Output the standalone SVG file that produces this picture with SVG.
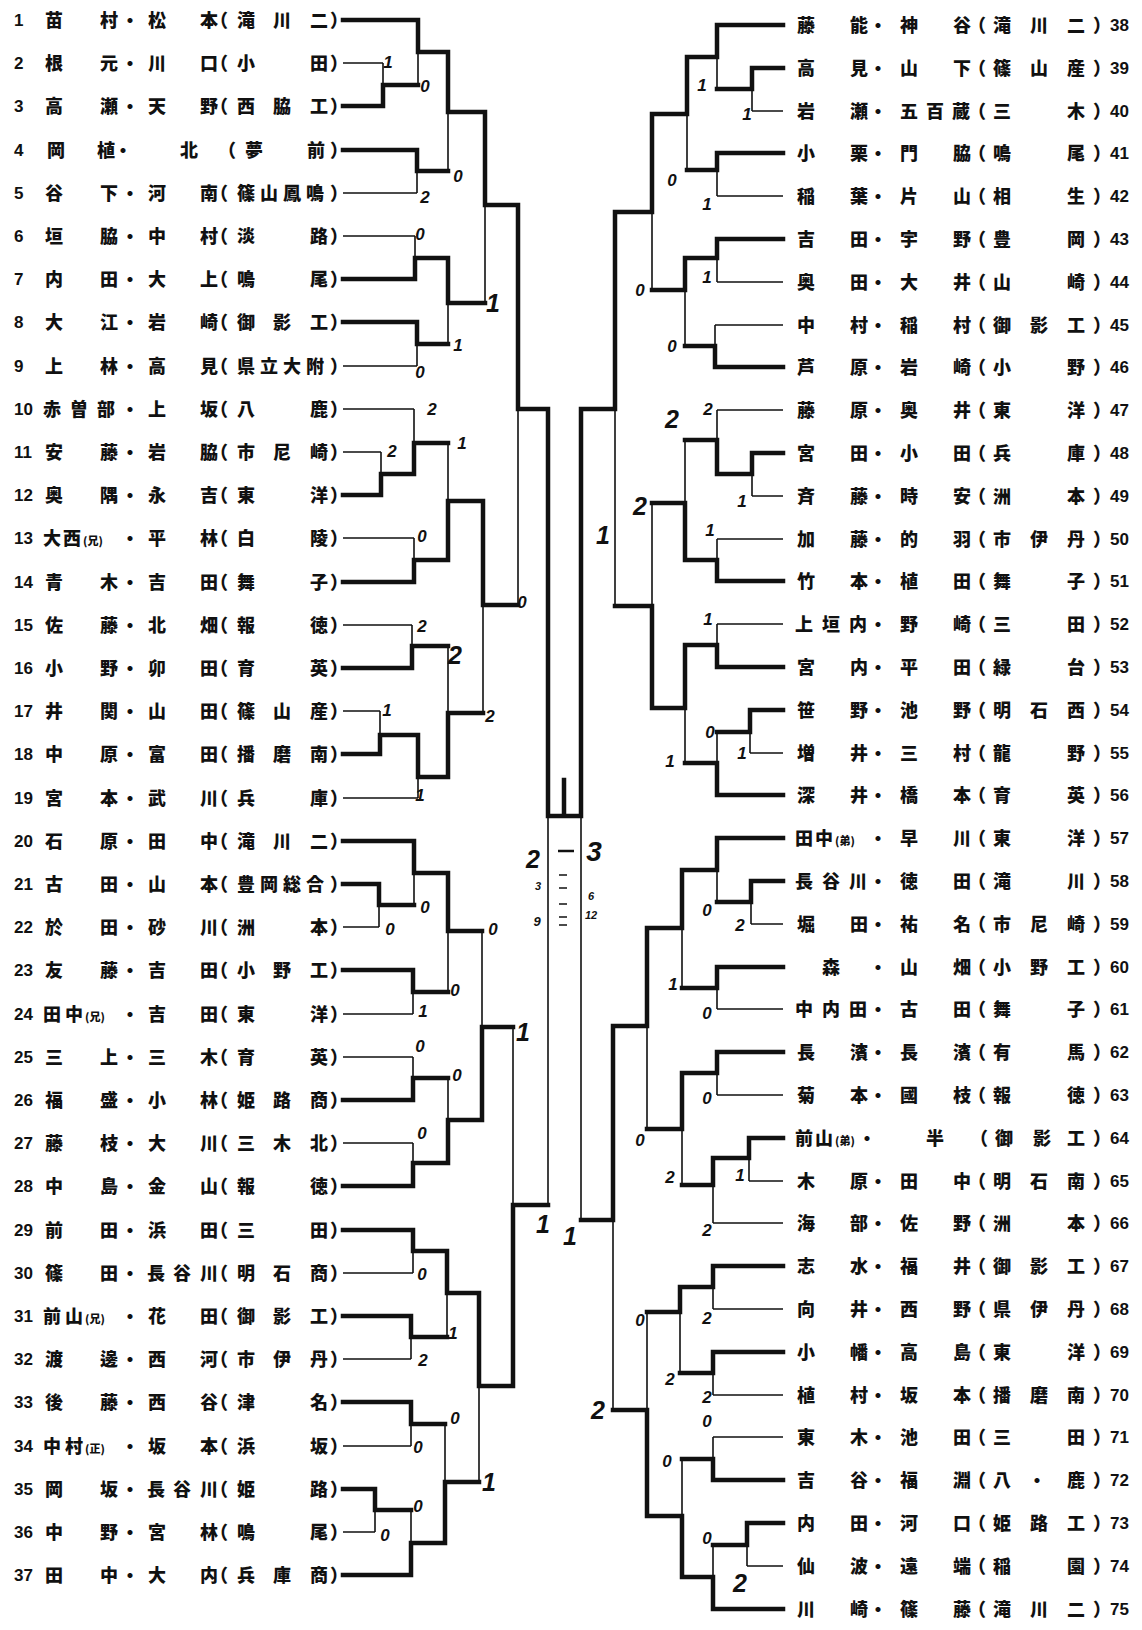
<svg xmlns="http://www.w3.org/2000/svg" width="1142" height="1630" viewBox="0 0 1142 1630">
<style>
.j{font-family:'Noto Sans CJK JP','Noto Sans CJK SC',sans-serif;font-size:18px;font-weight:900;fill:#111}
.s{font-size:11px}
.n{font-family:'Liberation Sans',Arial,sans-serif;font-size:17px;font-weight:700;fill:#111}
.h{font-family:'Liberation Sans',Arial,sans-serif;font-size:17px;font-weight:700;font-style:italic;fill:#111;text-anchor:middle}
.hb{font-size:25px}
.hs{font-size:11px}
.k{fill:none;stroke:#111;stroke-width:4.5;stroke-linecap:square}
.t{fill:none;stroke:#111;stroke-width:1.6}
</style>
<rect width="1142" height="1630" fill="#fff"/>
<g id="connectors">
<path class="t" d="M343 63H383M343 193H417M343 236H415M343 366H417M343 409H414M343 452H381M343 538H414M343 625H412M343 711H380M343 798H418M343 927H379M343 1014H413M343 1057H413M343 1143H413M343 1273H413M343 1359H411M343 1446H411M343 1532H375
M383 63V85M418 85V52M417 193V171M448 171V112M415 236V258M417 366V344M448 344V303M485 303V205M381 452V474M414 409V443M414 538V560M448 443V501M412 625V646M380 711V735M418 798V777M448 646V713M483 713V605M518 605V409
M379 927V905M414 905V873M413 1014V992M448 992V931M413 1057V1078M413 1143V1163M448 1078V1120M482 931V1027M413 1273V1251M411 1359V1337M447 1337V1293M411 1446V1424M375 1532V1510M411 1510V1543M445 1424V1482M479 1482V1386M513 1027V1205M548 1205V816
M752 111H783M717 196H783M717 282H783M715 325H783M717 410H783M752 496H783M717 539H783M717 624H783M750 753H783M751 924H783M717 1009H783M717 1095H783M749 1181H783M713 1223H783M713 1309H783M713 1395H783M713 1437H783M747 1566H783
M752 111V89M717 89V57M717 196V170M687 170V114M717 282V258M715 325V346M685 346V290M652 290V212M752 496V474M717 410V440M717 539V560M685 440V503M717 624V645M750 753V732M717 732V763M685 763V708M652 503V606M615 606V409
M751 924V902M717 902V870M717 1009V988M682 988V928M717 1095V1073M749 1181V1158M713 1223V1185M682 1185V1129M647 1129V1026M713 1309V1287M713 1395V1373M680 1373V1312M713 1437V1459M747 1566V1545M713 1545V1577M682 1459V1516M647 1312V1410M613 1410V1220M581 1220V816
M559 875H567M559 888H567M559 904H567M559 917H567M559 925H567"/>
<path class="k" d="M343 20H418M343 106H383M343 150H417M343 279H415M343 322H417M343 495H381M343 582H414M343 668H412M343 754H380M343 841H414M343 884H379M343 970H413M343 1100H413M343 1186H413M343 1230H413M343 1316H411M343 1402H411M343 1489H375M343 1575H411
M383 106V85H418M418 20V52H448M417 150V171H448M448 52V112H485M415 279V258H448M417 322V344H448M448 258V303H485M485 112V205H518M381 495V474H414M414 474V443H448M414 582V560H448M448 560V501H483M412 668V646H448M380 754V735H418M418 735V777H448M448 777V713H483M483 501V605H518M518 205V409H548
M379 884V905H414M414 841V873H448M413 970V992H448M448 873V931H482M413 1100V1078H448M413 1186V1163H448M448 1163V1120H482M482 1120V1027H513M413 1230V1251H447M411 1316V1337H447M447 1251V1293H479M411 1402V1424H445M375 1489V1510H411M411 1575V1543H445M445 1543V1482H479M479 1293V1386H513M513 1386V1205H548
M548 409V816H581M581 409V816M564 816V780
M717 25H783M752 68H783M717 153H783M717 239H783M715 367H783M752 453H783M717 581H783M717 667H783M750 710H783M717 795H783M717 838H783M751 881H783M717 967H783M717 1052H783M749 1138H783M713 1266H783M713 1352H783M713 1480H783M747 1523H783M713 1609H783
M752 68V89H717M717 25V57H687M717 153V170H687M687 57V114H652M717 239V258H685M715 367V346H685M685 258V290H652M652 114V212H615M752 453V474H717M717 474V440H685M717 581V560H685M685 560V503H652M717 667V645H685M750 710V732H717M717 795V763H685M685 645V708H652M652 708V606H615M615 212V409H581
M751 881V902H717M717 838V870H682M717 967V988H682M682 870V928H647M717 1052V1073H682M749 1138V1158H713M713 1158V1185H682M682 1073V1129H647M647 928V1026H613M713 1266V1287H680M713 1352V1373H680M680 1287V1312H647M713 1480V1459H682M747 1523V1545H713M713 1609V1577H682M682 1577V1516H647M647 1516V1410H613M613 1026V1220H581"/>
<path d="M558 851H574" fill="none" stroke="#111" stroke-width="2.5"/>
</g>
<g id="scores">
<text class="h" x="388" y="68">1</text><text class="h" x="425" y="92">0</text><text class="h" x="425" y="203">2</text><text class="h" x="458" y="182">0</text><text class="h" x="420" y="240">0</text><text class="h hb" x="493" y="312">1</text><text class="h" x="458" y="351">1</text><text class="h" x="420" y="378">0</text><text class="h" x="432" y="415">2</text><text class="h" x="392" y="457">2</text><text class="h" x="462" y="449">1</text><text class="h" x="422" y="542">0</text><text class="h" x="522" y="608">0</text><text class="h" x="422" y="632">2</text><text class="h hb" x="455" y="664">2</text><text class="h" x="490" y="722">2</text><text class="h" x="387" y="716">1</text><text class="h" x="420" y="801">1</text>
<text class="h" x="390" y="935">0</text><text class="h" x="425" y="913">0</text><text class="h" x="493" y="935">0</text><text class="h" x="455" y="996">0</text><text class="h" x="423" y="1017">1</text><text class="h" x="420" y="1052">0</text><text class="h" x="457" y="1081">0</text><text class="h hb" x="523" y="1041">1</text><text class="h" x="422" y="1139">0</text><text class="h" x="422" y="1280">0</text><text class="h" x="453" y="1339">1</text><text class="h" x="423" y="1366">2</text><text class="h" x="455" y="1424">0</text><text class="h" x="418" y="1453">0</text><text class="h hb" x="489" y="1491">1</text><text class="h" x="418" y="1512">0</text><text class="h" x="385" y="1541">0</text><text class="h hb" x="543" y="1233">1</text>
<text class="h" x="702" y="91">1</text><text class="h" x="747" y="120">1</text><text class="h" x="672" y="186">0</text><text class="h" x="707" y="210">1</text><text class="h" x="640" y="296">0</text><text class="h" x="707" y="283">1</text><text class="h" x="672" y="352">0</text><text class="h" x="708" y="415">2</text><text class="h hb" x="672" y="428">2</text><text class="h" x="742" y="507">1</text><text class="h hb" x="640" y="515">2</text><text class="h" x="710" y="536">1</text><text class="h hb" x="603" y="544">1</text><text class="h" x="708" y="625">1</text><text class="h" x="710" y="738">0</text><text class="h" x="742" y="759">1</text><text class="h" x="670" y="767">1</text>
<text class="h" x="707" y="916">0</text><text class="h" x="740" y="931">2</text><text class="h" x="673" y="990">1</text><text class="h" x="707" y="1019">0</text><text class="h" x="640" y="1146">0</text><text class="h" x="707" y="1104">0</text><text class="h" x="740" y="1181">1</text><text class="h" x="670" y="1183">2</text><text class="h" x="707" y="1236">2</text><text class="h" x="640" y="1326">0</text><text class="h" x="707" y="1324">2</text><text class="h" x="670" y="1385">2</text><text class="h" x="707" y="1403">2</text><text class="h hb" x="598" y="1419">2</text><text class="h" x="707" y="1427">0</text><text class="h" x="667" y="1467">0</text><text class="h" x="707" y="1544">0</text><text class="h hb" x="740" y="1592">2</text><text class="h hb" x="570" y="1245">1</text>
<text class="h hb" x="533" y="868">2</text><text class="h hb" x="594" y="861" style="font-size:28px">3</text>
<text class="h hs" x="538" y="890">3</text><text class="h" x="537" y="926" style="font-size:13px">9</text>
<text class="h hs" x="591" y="900">6</text><text class="h hs" x="591" y="919">12</text>
</g>
<g id="e1"><text class="n" x="14" y="26">1</text><text class="j" x="45 100 121 148 200 210 237 273 310 330" y="27">苗村・松本（滝川二）</text></g>
<g id="e2"><text class="n" x="14" y="69">2</text><text class="j" x="45 100 121 148 200 210 237 310 330" y="70">根元・川口（小田）</text></g>
<g id="e3"><text class="n" x="14" y="112">3</text><text class="j" x="45 100 121 148 200 210 237 273 310 330" y="113">高瀬・天野（西脇工）</text></g>
<g id="e4"><text class="n" x="14" y="156">4</text><text class="j" x="47 97 114 180 218 245 307 330" y="157">岡植・北（夢前）</text></g>
<g id="e5"><text class="n" x="14" y="199">5</text><text class="j" x="45 100 121 148 200 210 237 260 283 306 330" y="200">谷下・河南（篠山鳳鳴）</text></g>
<g id="e6"><text class="n" x="14" y="242">6</text><text class="j" x="45 100 121 148 200 210 237 310 330" y="243">垣脇・中村（淡路）</text></g>
<g id="e7"><text class="n" x="14" y="285">7</text><text class="j" x="45 100 121 148 200 210 237 310 330" y="286">内田・大上（鳴尾）</text></g>
<g id="e8"><text class="n" x="14" y="328">8</text><text class="j" x="45 100 121 148 200 210 237 273 310 330" y="329">大江・岩崎（御影工）</text></g>
<g id="e9"><text class="n" x="14" y="372">9</text><text class="j" x="45 100 121 148 200 210 237 260 283 306 330" y="373">上林・高見（県立大附）</text></g>
<g id="e10"><text class="n" x="14" y="415">10</text><text class="j" x="43 70 97 121 148 200 210 237 310 330" y="416">赤曽部・上坂（八鹿）</text></g>
<g id="e11"><text class="n" x="14" y="458">11</text><text class="j" x="45 100 121 148 200 210 237 273 310 330" y="459">安藤・岩脇（市尼崎）</text></g>
<g id="e12"><text class="n" x="14" y="501">12</text><text class="j" x="45 100 121 148 200 210 237 310 330" y="502">奥隅・永吉（東洋）</text></g>
<g id="e13"><text class="n" x="14" y="544">13</text><text class="j" y="545"><tspan x="43 63">大西</tspan><tspan class="s" x="83">(兄)</tspan><tspan x="121 148 200 210 237 310 330">・平林（白陵）</tspan></text></g>
<g id="e14"><text class="n" x="14" y="588">14</text><text class="j" x="45 100 121 148 200 210 237 310 330" y="589">青木・吉田（舞子）</text></g>
<g id="e15"><text class="n" x="14" y="631">15</text><text class="j" x="45 100 121 148 200 210 237 310 330" y="632">佐藤・北畑（報徳）</text></g>
<g id="e16"><text class="n" x="14" y="674">16</text><text class="j" x="45 100 121 148 200 210 237 310 330" y="675">小野・卯田（育英）</text></g>
<g id="e17"><text class="n" x="14" y="717">17</text><text class="j" x="45 100 121 148 200 210 237 273 310 330" y="718">井関・山田（篠山産）</text></g>
<g id="e18"><text class="n" x="14" y="760">18</text><text class="j" x="45 100 121 148 200 210 237 273 310 330" y="761">中原・富田（播磨南）</text></g>
<g id="e19"><text class="n" x="14" y="804">19</text><text class="j" x="45 100 121 148 200 210 237 310 330" y="805">宮本・武川（兵庫）</text></g>
<g id="e20"><text class="n" x="14" y="847">20</text><text class="j" x="45 100 121 148 200 210 237 273 310 330" y="848">石原・田中（滝川二）</text></g>
<g id="e21"><text class="n" x="14" y="890">21</text><text class="j" x="45 100 121 148 200 210 237 260 283 306 330" y="891">古田・山本（豊岡総合）</text></g>
<g id="e22"><text class="n" x="14" y="933">22</text><text class="j" x="45 100 121 148 200 210 237 310 330" y="934">於田・砂川（洲本）</text></g>
<g id="e23"><text class="n" x="14" y="976">23</text><text class="j" x="45 100 121 148 200 210 237 273 310 330" y="977">友藤・吉田（小野工）</text></g>
<g id="e24"><text class="n" x="14" y="1020">24</text><text class="j" y="1021"><tspan x="43 65">田中</tspan><tspan class="s" x="85">(兄)</tspan><tspan x="121 148 200 210 237 310 330">・吉田（東洋）</tspan></text></g>
<g id="e25"><text class="n" x="14" y="1063">25</text><text class="j" x="45 100 121 148 200 210 237 310 330" y="1064">三上・三木（育英）</text></g>
<g id="e26"><text class="n" x="14" y="1106">26</text><text class="j" x="45 100 121 148 200 210 237 273 310 330" y="1107">福盛・小林（姫路商）</text></g>
<g id="e27"><text class="n" x="14" y="1149">27</text><text class="j" x="45 100 121 148 200 210 237 273 310 330" y="1150">藤枝・大川（三木北）</text></g>
<g id="e28"><text class="n" x="14" y="1192">28</text><text class="j" x="45 100 121 148 200 210 237 310 330" y="1193">中島・金山（報徳）</text></g>
<g id="e29"><text class="n" x="14" y="1236">29</text><text class="j" x="45 100 121 148 200 210 237 310 330" y="1237">前田・浜田（三田）</text></g>
<g id="e30"><text class="n" x="14" y="1279">30</text><text class="j" x="45 100 121 147 173 200 210 237 273 310 330" y="1280">篠田・長谷川（明石商）</text></g>
<g id="e31"><text class="n" x="14" y="1322">31</text><text class="j" y="1323"><tspan x="43 65">前山</tspan><tspan class="s" x="85">(兄)</tspan><tspan x="121 148 200 210 237 273 310 330">・花田（御影工）</tspan></text></g>
<g id="e32"><text class="n" x="14" y="1365">32</text><text class="j" x="45 100 121 148 200 210 237 273 310 330" y="1366">渡邊・西河（市伊丹）</text></g>
<g id="e33"><text class="n" x="14" y="1408">33</text><text class="j" x="45 100 121 148 200 210 237 310 330" y="1409">後藤・西谷（津名）</text></g>
<g id="e34"><text class="n" x="14" y="1452">34</text><text class="j" y="1453"><tspan x="43 65">中村</tspan><tspan class="s" x="85">(正)</tspan><tspan x="121 148 200 210 237 310 330">・坂本（浜坂）</tspan></text></g>
<g id="e35"><text class="n" x="14" y="1495">35</text><text class="j" x="45 100 121 147 173 200 210 237 310 330" y="1496">岡坂・長谷川（姫路）</text></g>
<g id="e36"><text class="n" x="14" y="1538">36</text><text class="j" x="45 100 121 148 200 210 237 310 330" y="1539">中野・宮林（鳴尾）</text></g>
<g id="e37"><text class="n" x="14" y="1581">37</text><text class="j" x="45 100 121 148 200 210 237 273 310 330" y="1582">田中・大内（兵庫商）</text></g>
<g id="e38"><text class="j" x="797 850 869 900 953 968 993 1030 1067 1093" y="32">藤能・神谷（滝川二）</text><text class="n" x="1110" y="31">38</text></g>
<g id="e39"><text class="j" x="797 850 869 900 953 968 993 1030 1067 1093" y="75">高見・山下（篠山産）</text><text class="n" x="1110" y="74">39</text></g>
<g id="e40"><text class="j" x="797 850 869 900 926 952 968 993 1067 1093" y="118">岩瀬・五百蔵（三木）</text><text class="n" x="1110" y="117">40</text></g>
<g id="e41"><text class="j" x="797 850 869 900 953 968 993 1067 1093" y="160">小栗・門脇（鳴尾）</text><text class="n" x="1110" y="159">41</text></g>
<g id="e42"><text class="j" x="797 850 869 900 953 968 993 1067 1093" y="203">稲葉・片山（相生）</text><text class="n" x="1110" y="202">42</text></g>
<g id="e43"><text class="j" x="797 850 869 900 953 968 993 1067 1093" y="246">吉田・宇野（豊岡）</text><text class="n" x="1110" y="245">43</text></g>
<g id="e44"><text class="j" x="797 850 869 900 953 968 993 1067 1093" y="289">奥田・大井（山崎）</text><text class="n" x="1110" y="288">44</text></g>
<g id="e45"><text class="j" x="797 850 869 900 953 968 993 1030 1067 1093" y="332">中村・稲村（御影工）</text><text class="n" x="1110" y="331">45</text></g>
<g id="e46"><text class="j" x="797 850 869 900 953 968 993 1067 1093" y="374">芦原・岩崎（小野）</text><text class="n" x="1110" y="373">46</text></g>
<g id="e47"><text class="j" x="797 850 869 900 953 968 993 1067 1093" y="417">藤原・奥井（東洋）</text><text class="n" x="1110" y="416">47</text></g>
<g id="e48"><text class="j" x="797 850 869 900 953 968 993 1067 1093" y="460">宮田・小田（兵庫）</text><text class="n" x="1110" y="459">48</text></g>
<g id="e49"><text class="j" x="797 850 869 900 953 968 993 1067 1093" y="503">斉藤・時安（洲本）</text><text class="n" x="1110" y="502">49</text></g>
<g id="e50"><text class="j" x="797 850 869 900 953 968 993 1030 1067 1093" y="546">加藤・的羽（市伊丹）</text><text class="n" x="1110" y="545">50</text></g>
<g id="e51"><text class="j" x="797 850 869 900 953 968 993 1067 1093" y="588">竹本・植田（舞子）</text><text class="n" x="1110" y="587">51</text></g>
<g id="e52"><text class="j" x="795 822 849 869 900 953 968 993 1067 1093" y="631">上垣内・野崎（三田）</text><text class="n" x="1110" y="630">52</text></g>
<g id="e53"><text class="j" x="797 850 869 900 953 968 993 1067 1093" y="674">宮内・平田（緑台）</text><text class="n" x="1110" y="673">53</text></g>
<g id="e54"><text class="j" x="797 850 869 900 953 968 993 1030 1067 1093" y="717">笹野・池野（明石西）</text><text class="n" x="1110" y="716">54</text></g>
<g id="e55"><text class="j" x="797 850 869 900 953 968 993 1067 1093" y="760">増井・三村（龍野）</text><text class="n" x="1110" y="759">55</text></g>
<g id="e56"><text class="j" x="797 850 869 900 953 968 993 1067 1093" y="802">深井・橋本（育英）</text><text class="n" x="1110" y="801">56</text></g>
<g id="e57"><text class="j" y="845"><tspan x="795 815">田中</tspan><tspan class="s" x="835">(弟)</tspan><tspan x="869 900 953 968 993 1067 1093">・早川（東洋）</tspan></text><text class="n" x="1110" y="844">57</text></g>
<g id="e58"><text class="j" x="795 822 849 869 900 953 968 993 1067 1093" y="888">長谷川・徳田（滝川）</text><text class="n" x="1110" y="887">58</text></g>
<g id="e59"><text class="j" x="797 850 869 900 953 968 993 1030 1067 1093" y="931">堀田・祐名（市尼崎）</text><text class="n" x="1110" y="930">59</text></g>
<g id="e60"><text class="j" x="822 869 900 953 968 993 1030 1067 1093" y="974">森・山畑（小野工）</text><text class="n" x="1110" y="973">60</text></g>
<g id="e61"><text class="j" x="795 822 849 869 900 953 968 993 1067 1093" y="1016">中内田・古田（舞子）</text><text class="n" x="1110" y="1015">61</text></g>
<g id="e62"><text class="j" x="797 850 869 900 953 968 993 1067 1093" y="1059">長濱・長濱（有馬）</text><text class="n" x="1110" y="1058">62</text></g>
<g id="e63"><text class="j" x="797 850 869 900 953 968 993 1067 1093" y="1102">菊本・國枝（報徳）</text><text class="n" x="1110" y="1101">63</text></g>
<g id="e64"><text class="j" y="1145"><tspan x="795 815">前山</tspan><tspan class="s" x="835">(弟)</tspan><tspan x="858 926 970 995 1033 1067 1093">・半（御影工）</tspan></text><text class="n" x="1110" y="1144">64</text></g>
<g id="e65"><text class="j" x="797 850 869 900 953 968 993 1030 1067 1093" y="1188">木原・田中（明石南）</text><text class="n" x="1110" y="1187">65</text></g>
<g id="e66"><text class="j" x="797 850 869 900 953 968 993 1067 1093" y="1230">海部・佐野（洲本）</text><text class="n" x="1110" y="1229">66</text></g>
<g id="e67"><text class="j" x="797 850 869 900 953 968 993 1030 1067 1093" y="1273">志水・福井（御影工）</text><text class="n" x="1110" y="1272">67</text></g>
<g id="e68"><text class="j" x="797 850 869 900 953 968 993 1030 1067 1093" y="1316">向井・西野（県伊丹）</text><text class="n" x="1110" y="1315">68</text></g>
<g id="e69"><text class="j" x="797 850 869 900 953 968 993 1067 1093" y="1359">小幡・高島（東洋）</text><text class="n" x="1110" y="1358">69</text></g>
<g id="e70"><text class="j" x="797 850 869 900 953 968 993 1030 1067 1093" y="1402">植村・坂本（播磨南）</text><text class="n" x="1110" y="1401">70</text></g>
<g id="e71"><text class="j" x="797 850 869 900 953 968 993 1067 1093" y="1444">東木・池田（三田）</text><text class="n" x="1110" y="1443">71</text></g>
<g id="e72"><text class="j" x="797 850 869 900 953 968 993 1028 1067 1093" y="1487">吉谷・福淵（八・鹿）</text><text class="n" x="1110" y="1486">72</text></g>
<g id="e73"><text class="j" x="797 850 869 900 953 968 993 1030 1067 1093" y="1530">内田・河口（姫路工）</text><text class="n" x="1110" y="1529">73</text></g>
<g id="e74"><text class="j" x="797 850 869 900 953 968 993 1067 1093" y="1573">仙波・遠端（稲園）</text><text class="n" x="1110" y="1572">74</text></g>
<g id="e75"><text class="j" x="797 850 869 900 953 968 993 1030 1067 1093" y="1616">川崎・篠藤（滝川二）</text><text class="n" x="1110" y="1615">75</text></g>
</svg>
